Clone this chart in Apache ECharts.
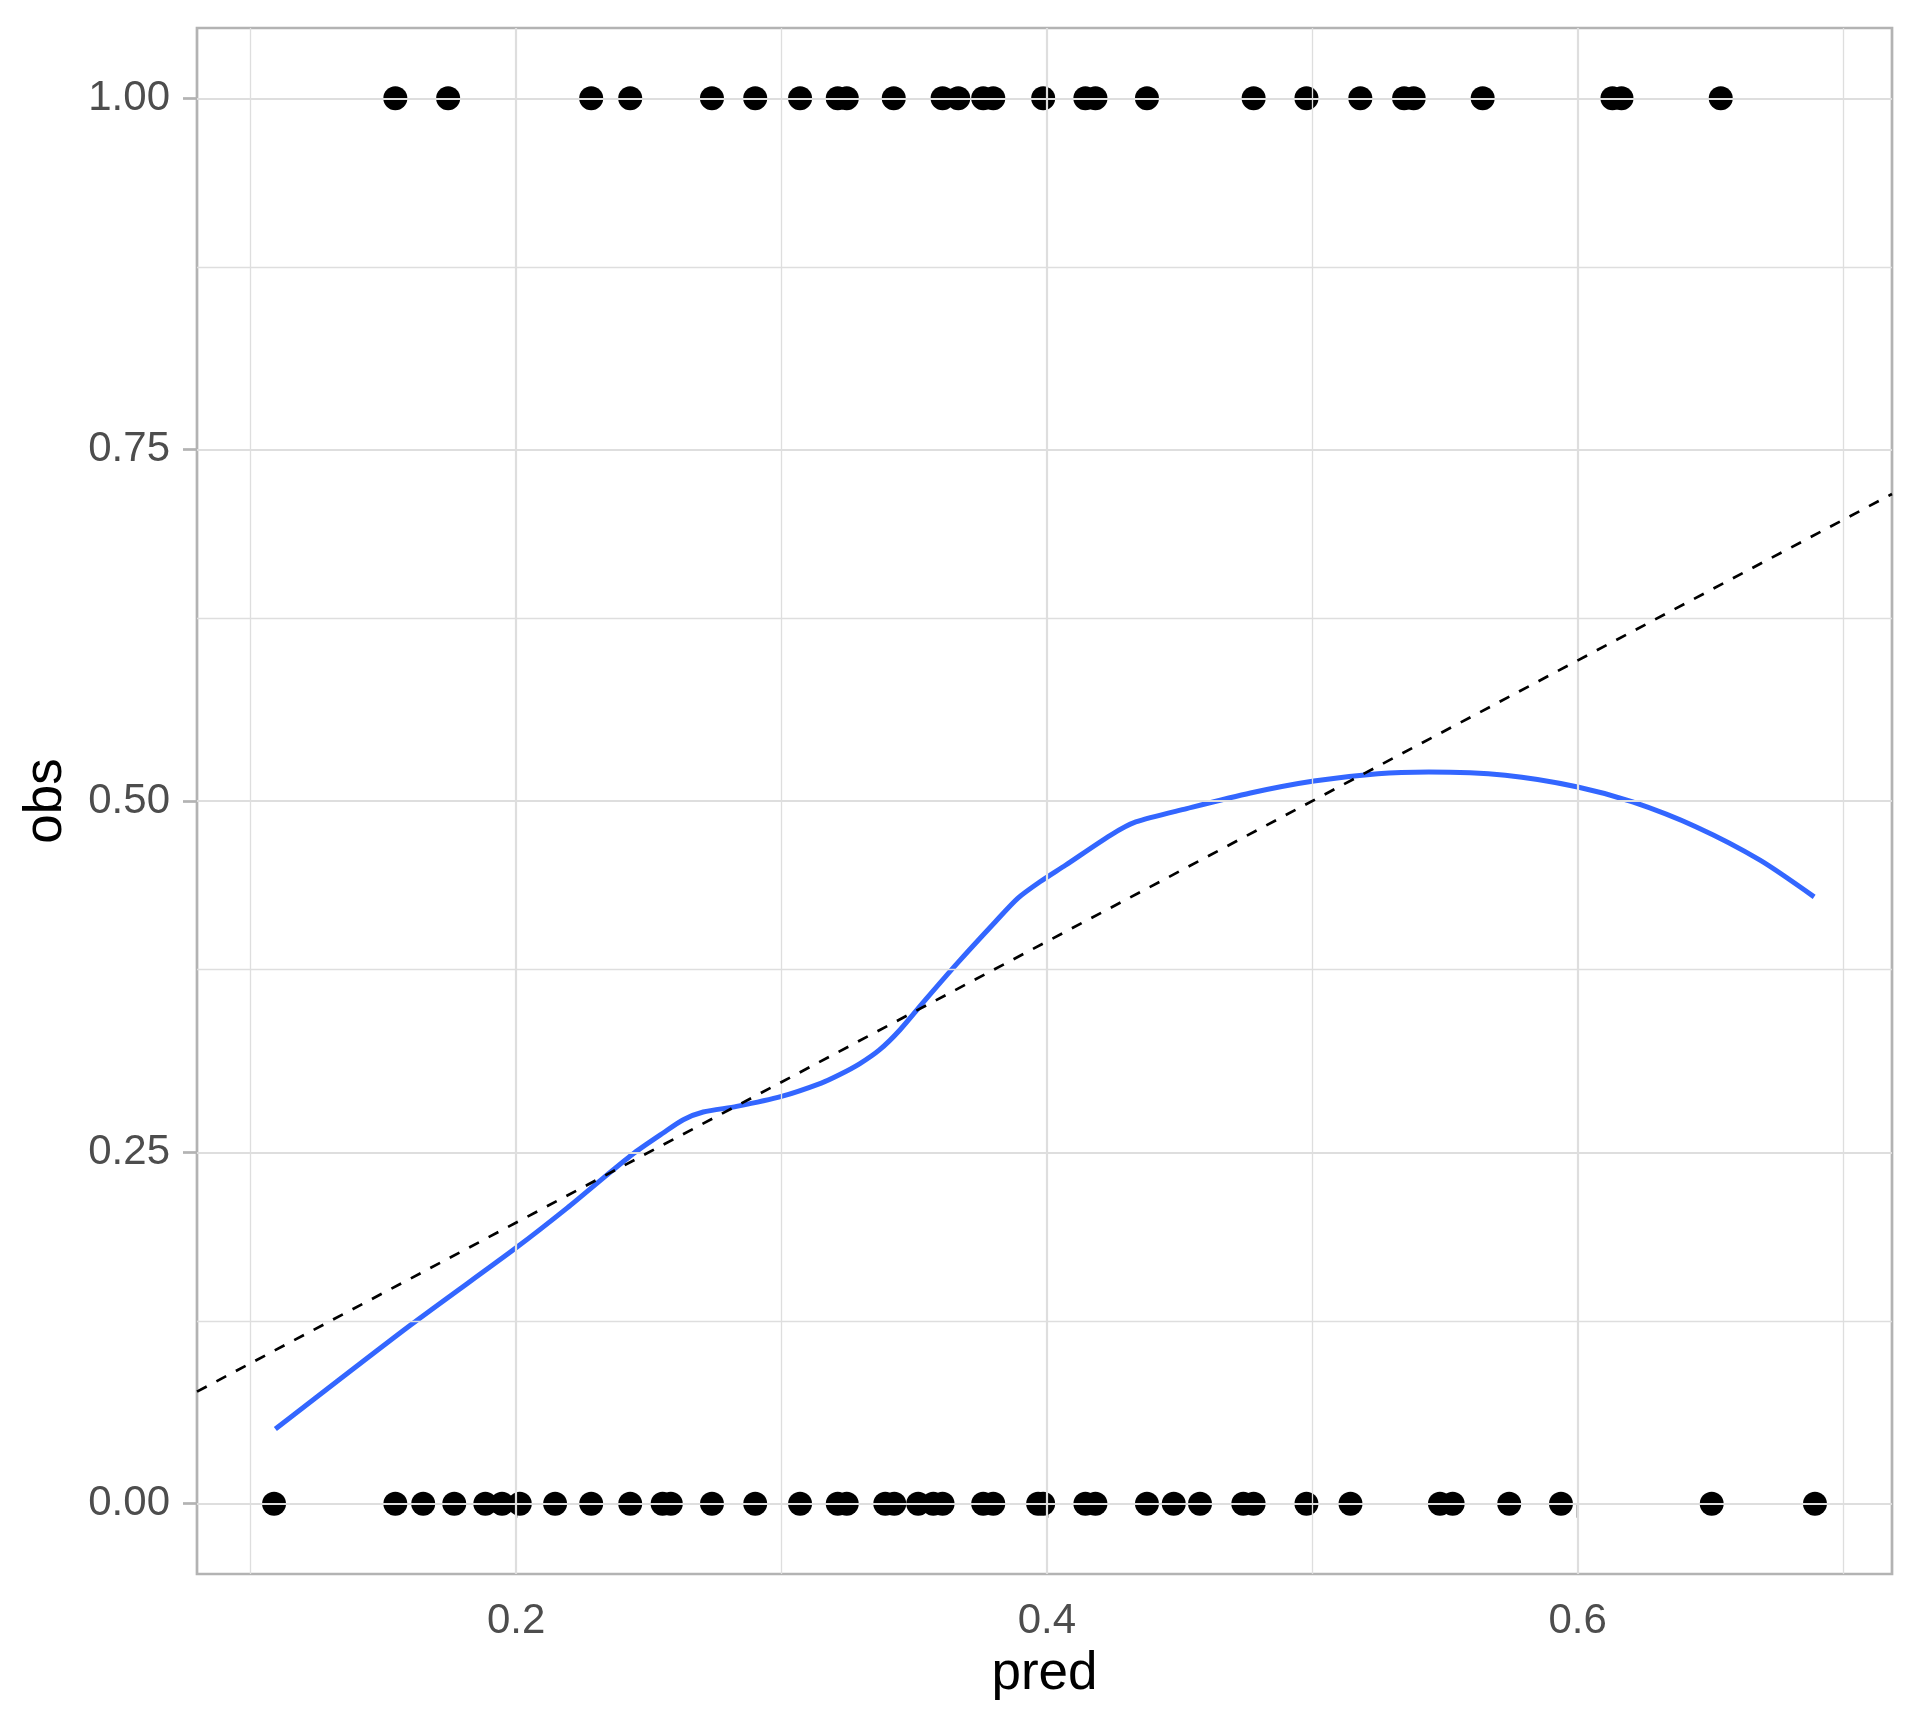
<!DOCTYPE html>
<html>
<head>
<meta charset="utf-8">
<script src="https://cdn.jsdelivr.net/npm/echarts@6/dist/echarts.min.js"></script>
<style>
html,body{margin:0;padding:0;background:#fff;}
#chart{width:1920px;height:1728px;}
</style>
</head>
<body>
<div id="chart"></div>
<script>
// observed = 1 points (pred values)
const predObs1 = [0.1545, 0.1744, 0.2283, 0.2430, 0.2738, 0.2901, 0.3070, 0.3212, 0.3246, 0.3423, 0.3607, 0.3666, 0.3760, 0.3798, 0.3986, 0.4145, 0.4183, 0.4377, 0.4779, 0.4978, 0.5181, 0.5346, 0.5382, 0.5642, 0.6131, 0.6165, 0.6539];
// observed = 0 points (pred values)
const predObs0 = [0.1088, 0.1545, 0.1650, 0.1767, 0.1884, 0.1947, 0.2014, 0.2147, 0.2283, 0.2430, 0.2552, 0.2583, 0.2738, 0.2901, 0.3070, 0.3212, 0.3246, 0.3391, 0.3425, 0.3515, 0.3572, 0.3607, 0.3760, 0.3798, 0.3967, 0.3986, 0.4145, 0.4183, 0.4377, 0.4478, 0.4577, 0.4740, 0.4779, 0.4978, 0.5144, 0.5481, 0.5529, 0.5742, 0.5937, 0.6505, 0.6894];
// loess smooth curve
const smoothX = [0.1093, 0.1605, 0.2000, 0.2193, 0.2344, 0.2445, 0.2554, 0.2630, 0.2705, 0.2831, 0.3000, 0.3150, 0.3218, 0.3294, 0.3369, 0.3446, 0.3542, 0.3662, 0.3806, 0.3890, 0.3974, 0.4070, 0.4239, 0.4335, 0.4527, 0.4767, 0.5006, 0.5247, 0.5439, 0.5727, 0.6000, 0.6207, 0.6447, 0.6687, 0.6891];
const smoothY = [0.0531, 0.1275, 0.1821, 0.2105, 0.2342, 0.2496, 0.2638, 0.2732, 0.2787, 0.2827, 0.2898, 0.2993, 0.3052, 0.3130, 0.3229, 0.3371, 0.3585, 0.3845, 0.4141, 0.4307, 0.4425, 0.4543, 0.4756, 0.4851, 0.4946, 0.5057, 0.5142, 0.5194, 0.5206, 0.5183, 0.5100, 0.4993, 0.4815, 0.4579, 0.4318];
// axis ticks
const xTicks = [0.2, 0.4, 0.6];
const xMinor = [0.1, 0.3, 0.5, 0.7];
const yTicks = [0, 0.25, 0.5, 0.75, 1];
const yMinor = [0.125, 0.375, 0.625, 0.875];

const allX = predObs0.concat(predObs1);
const dxMin = Math.min.apply(null, allX), dxMax = Math.max.apply(null, allX);
const xMin = dxMin - 0.05 * (dxMax - dxMin);
const xMax = dxMax + 0.05 * (dxMax - dxMin);
const yMin = -0.05, yMax = 1.05;

const FONT = 'Liberation Sans';
const gridCol = '#DEDEDE';
const borderCol = '#B3B3B3';

const gridLines = []
  .concat(xMinor.map(v => ({xAxis: v, lineStyle: {color: gridCol, width: 1.3, type: 'solid'}})))
  .concat(yMinor.map(v => ({yAxis: v, lineStyle: {color: gridCol, width: 1.3, type: 'solid'}})))
  .concat(xTicks.map(v => ({xAxis: v, lineStyle: {color: gridCol, width: 2.2, type: 'solid'}})))
  .concat(yTicks.map(v => ({yAxis: v, lineStyle: {color: gridCol, width: 2.2, type: 'solid'}})));

const chart = echarts.init(document.getElementById('chart'), null, {renderer: 'canvas'});
chart.setOption({
  animation: false,
  backgroundColor: '#ffffff',
  grid: {left: 197, right: 28, top: 28, bottom: 154, show: true, borderColor: borderCol, borderWidth: 2.7, backgroundColor: 'transparent'},
  xAxis: {
    type: 'value', min: xMin, max: xMax,
    name: 'pred', nameLocation: 'middle', nameGap: 74,
    nameTextStyle: {fontFamily: FONT, fontSize: 53, color: '#000', verticalAlign: 'top'},
    axisLine: {show: false},
    axisTick: {show: true, length: 14, customValues: xTicks, lineStyle: {color: borderCol, width: 2.7}},
    axisLabel: {customValues: xTicks, margin: 26, fontFamily: FONT, fontSize: 42, color: '#4D4D4D', formatter: v => String(+v.toFixed(1))},
    splitLine: {show: false}
  },
  yAxis: {
    type: 'value', min: yMin, max: yMax,
    name: 'obs', nameLocation: 'middle', nameGap: 124,
    nameTextStyle: {fontFamily: FONT, fontSize: 53, color: '#000'},
    axisLine: {show: false},
    axisTick: {show: true, length: 14, customValues: yTicks, lineStyle: {color: borderCol, width: 2.7}},
    axisLabel: {customValues: yTicks, margin: 27, fontFamily: FONT, fontSize: 42, color: '#4D4D4D', formatter: v => v.toFixed(2)},
    splitLine: {show: false}
  },
  series: [
    {
      type: 'line', data: [], silent: true, z: 0,
      markLine: {silent: true, symbol: ['none', 'none'], label: {show: false}, animation: false, data: gridLines}
    },
    {
      type: 'scatter', name: 'obs0', data: predObs0.map(x => [x, 0]),
      symbol: 'circle', symbolSize: 24, itemStyle: {color: '#000', opacity: 1}, z: 3
    },
    {
      type: 'scatter', name: 'obs1', data: predObs1.map(x => [x, 1]),
      symbol: 'circle', symbolSize: 24, itemStyle: {color: '#000', opacity: 1}, z: 3
    },
    {
      type: 'line', name: 'smooth', data: smoothX.map((x, i) => [x, smoothY[i]]),
      showSymbol: false, smooth: 0.25, lineStyle: {color: '#3366FF', width: 5}, z: 4
    },
    {
      type: 'line', name: 'identity', data: [[xMin, xMin], [xMax, xMax]],
      showSymbol: false, lineStyle: {color: '#000', width: 2.7, type: [11, 11]}, z: 5
    }
  ]
});
</script>
</body>
</html>
